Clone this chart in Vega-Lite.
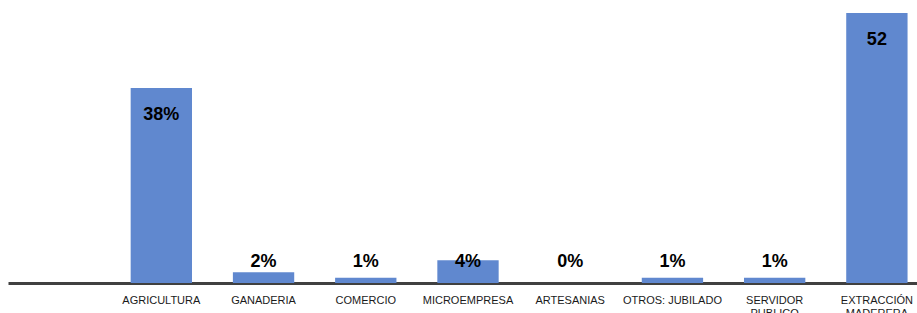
{
  "$schema": "https://vega.github.io/schema/vega-lite/v6.json",
  "autosize": "none",
  "padding": {"left": 8, "top": 0, "right": 0, "bottom": 30},
  "width": 909,
  "height": 283,
  "background": "white",
  "config": {"view": {"stroke": null}},
  "data": {"values": [
    {"sector": "AGRICULTURA", "value": 37.7, "label": "38%"},
    {"sector": "GANADERIA", "value": 2.1, "label": "2%"},
    {"sector": "COMERCIO", "value": 1.0, "label": "1%"},
    {"sector": "MICROEMPRESA", "value": 4.4, "label": "4%"},
    {"sector": "ARTESANIAS", "value": 0.0, "label": "0%"},
    {"sector": "OTROS: JUBILADO", "value": 1.0, "label": "1%"},
    {"sector": "SERVIDOR PUBLICO", "value": 1.0, "label": "1%"},
    {"sector": "EXTRACCIÓN MADERERA", "value": 52.2, "label": "52"}
  ]},
  "encoding": {
    "x": {
      "field": "sector", "type": "nominal", "sort": null,
      "scale": {
        "domain": [" ", "AGRICULTURA", "GANADERIA", "COMERCIO", "MICROEMPRESA", "ARTESANIAS", "OTROS: JUBILADO", "SERVIDOR PUBLICO", "EXTRACCIÓN MADERERA"],
        "range": [0, 920],
        "paddingInner": 0.4,
        "paddingOuter": 0.2
      },
      "axis": {
        "title": null,
        "ticks": false,
        "domainColor": "#404040",
        "domainWidth": 3,
        "labelFont": "Liberation Sans",
        "labelFontSize": 11,
        "labelColor": "#1a1a1a",
        "labelPadding": 11,
        "labelAngle": 0,
        "labelLineHeight": 13,
        "labelLimit": 0,
        "labelExpr": "indexof(['SERVIDOR PUBLICO','EXTRACCIÓN MADERERA'], datum.value) >= 0 ? split(datum.value, ' ') : datum.value"
      }
    }
  },
  "layer": [
    {
      "mark": {"type": "bar", "color": "#6088CF"},
      "encoding": {
        "y": {"field": "value", "type": "quantitative", "scale": {"domain": [0, 54.7], "nice": false}, "axis": null}
      }
    },
    {
      "transform": [{"filter": "datum.value >= 10"}],
      "mark": {"type": "text", "font": "Liberation Sans", "fontSize": 18, "fontWeight": "bold", "baseline": "alphabetic", "dy": 32, "color": "#000000"},
      "encoding": {
        "y": {"field": "value", "type": "quantitative"},
        "text": {"field": "label"}
      }
    },
    {
      "transform": [{"filter": "datum.value < 10"}],
      "mark": {"type": "text", "font": "Liberation Sans", "fontSize": 18, "fontWeight": "bold", "baseline": "alphabetic", "dy": -16, "color": "#000000"},
      "encoding": {
        "y": {"datum": 0, "type": "quantitative"},
        "text": {"field": "label"}
      }
    }
  ]
}
